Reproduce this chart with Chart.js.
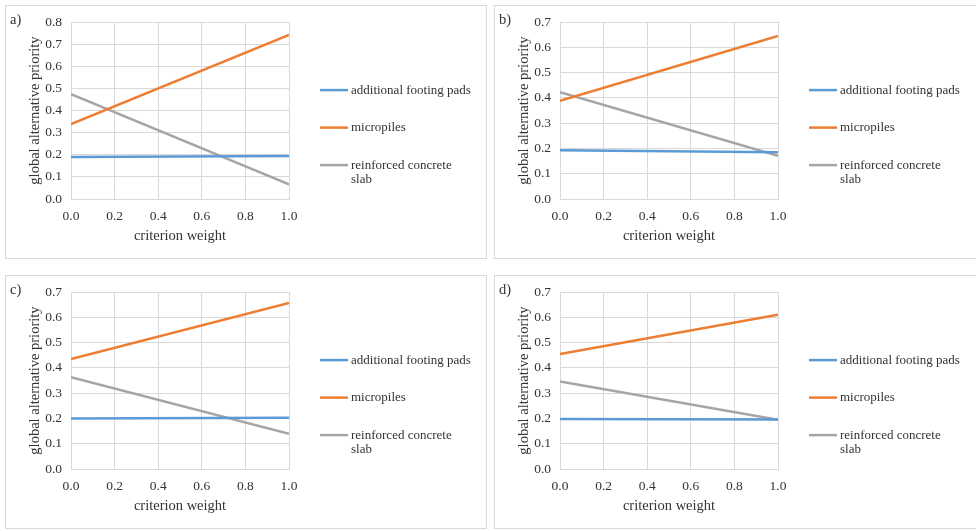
<!DOCTYPE html>
<html>
<head>
<meta charset="utf-8">
<script src="https://cdn.jsdelivr.net/npm/chart.js@4.4.1/dist/chart.umd.min.js"></script>
<style>
  html,body{margin:0;padding:0;background:#fff;overflow:hidden;}
  body{width:976px;height:531px;position:relative;}
  .panel{position:absolute;width:482px;height:254px;box-shadow:inset 0 0 0 1px #d9d9d9;}
  .panel canvas{position:absolute;left:0;top:0;}
</style>
</head>
<body>
<div class="panel" style="left:5px;top:5px"><canvas id="chart-a"></canvas></div>
<div class="panel" style="left:494px;top:5px;width:490px"><canvas id="chart-b"></canvas></div>
<div class="panel" style="left:5px;top:275px"><canvas id="chart-c"></canvas></div>
<div class="panel" style="left:494px;top:275px;width:490px"><canvas id="chart-d"></canvas></div>
<script>
const panelTags=['a)','b)','c)','d)'];
const weights=[0,1];
const yMax=[0.8,0.7,0.7,0.7];
const footingPads=[[0.190,0.195],[0.193,0.185],[0.200,0.203],[0.198,0.196]];
const micropiles=[[0.339,0.742],[0.389,0.645],[0.435,0.657],[0.455,0.610]];
const concreteSlab=[[0.474,0.066],[0.423,0.171],[0.363,0.139],[0.346,0.195]];
const seriesLabels=[['additional footing pads'],['micropiles'],['reinforced concrete','slab']];
const seriesColors=['#5b9bd5','#ed7d31','#a5a5a5'];

const FONT='"Liberation Serif","Times New Roman",serif';
const TEXT='#333333';
const GRID='#d9d9d9';

// legend + panel letter drawn on the canvas
const sidePlugin={
  id:'side',
  afterDraw(chart,args,opts){
    const c=chart.ctx, a=chart.chartArea;
    c.save();
    c.fillStyle=TEXT;
    c.textBaseline='middle';
    c.font='14.5px '+FONT;
    c.fillText(opts.tag,5,15);
    c.font='13px '+FONT;
    let y=a.top+68;
    chart.data.datasets.forEach(ds=>{
      const x0=a.right+31;
      c.strokeStyle=ds.borderColor;
      c.lineWidth=2.5;
      c.beginPath();c.moveTo(x0,y);c.lineTo(x0+28,y);c.stroke();
      c.fillStyle=TEXT;
      ds.label.forEach((t,i)=>c.fillText(t,x0+31,y+i*14.5));
      y+=37.5;
    });
    c.restore();
  }
};

['chart-a','chart-b','chart-c','chart-d'].forEach((id,p)=>{
  const series=[footingPads[p],micropiles[p],concreteSlab[p]];
  const datasets=series.map((vals,s)=>({
    label:seriesLabels[s],
    data:weights.map((w,i)=>({x:w,y:vals[i]})),
    borderColor:seriesColors[s],
    backgroundColor:seriesColors[s],
    borderWidth:2.5,
    pointRadius:0,
    tension:0
  }));
  new Chart(document.getElementById(id).getContext('2d'),{
    type:'line',
    data:{datasets},
    options:{
      responsive:true,
      maintainAspectRatio:false,
      animation:false,
      layout:{padding:{left:21,top:15,right:p%2?206:198,bottom:14}},
      plugins:{legend:{display:false},tooltip:{enabled:false},side:{tag:panelTags[p]}},
      scales:{
        x:{
          type:'linear',min:0,max:1,
          afterFit:s=>{s.height=46;},
          grid:{color:GRID,drawTicks:false},
          border:{color:GRID},
          ticks:{stepSize:0.2,padding:9,color:TEXT,font:{family:FONT,size:13.5},callback:v=>v.toFixed(1),maxRotation:0},
          title:{display:true,text:'criterion weight',color:TEXT,font:{family:FONT,size:14.5},padding:0}
        },
        y:{
          min:0,max:yMax[p],
          afterFit:s=>{s.width=45;},
          grid:{color:GRID,drawTicks:false},
          border:{color:GRID},
          ticks:{stepSize:0.1,padding:9,color:TEXT,font:{family:FONT,size:13.5},callback:v=>v.toFixed(1)},
          title:{display:true,text:'global alternative priority',color:TEXT,font:{family:FONT,size:14.5},padding:0}
        }
      }
    },
    plugins:[sidePlugin]
  });
});
</script>
</body>
</html>
